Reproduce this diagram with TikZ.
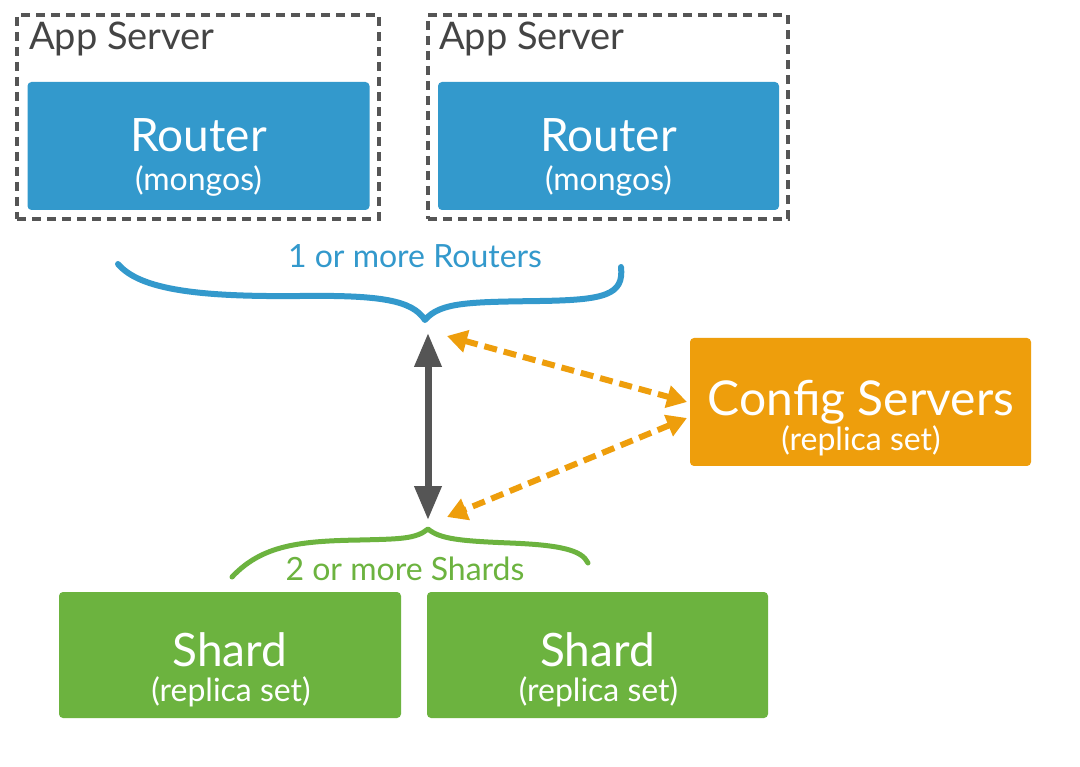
\documentclass[tikz,border=0pt]{standalone}
\usepackage{fontspec}
\setmainfont{Lato}
\usetikzlibrary{arrows.meta}
\definecolor{rblue}{HTML}{3399CC}
\definecolor{corange}{HTML}{EE9E0C}
\definecolor{sgreen}{HTML}{6CB33F}
\definecolor{dgray}{HTML}{555555}
\tikzset{
  appbox/.style={draw=dgray, line width=3.5pt, dash pattern=on 9pt off 6pt, minimum width=#1, minimum height=204pt, inner sep=0pt},
  colbox/.style={fill=#1, rounded corners=4pt, inner sep=0pt, minimum height=128pt},
  title/.style={anchor=base, text=white, font=\fontsize{46}{50}\selectfont, inner sep=0pt},
  subtitle/.style={anchor=base, text=white, font=\fontsize{32}{34}\selectfont, inner sep=0pt},
  apptext/.style={anchor=base west, text=dgray!80!black, font=\fontsize{38}{40}\selectfont, inner sep=0pt},
  bracelabel/.style={anchor=base, font=\fontsize{32}{34}\selectfont, inner sep=0pt},
  brace/.style={line width=#1, line cap=round, line join=round},
  grayarrow/.style={draw=dgray, line width=7pt, {Triangle[width=26pt,length=34pt]}-{Triangle[width=26pt,length=34pt]}},
  cfgarrow/.style={draw=corange, line width=6pt, dash pattern=on 13pt off 7pt, {Triangle[width=22pt,length=20pt]}-{Triangle[width=22pt,length=20pt]}},
}
\begin{document}
\begin{tikzpicture}[x=1pt,y=-1pt]
\useasboundingbox[fill=white] (0,0) rectangle (1080,767);
% app servers
\node[appbox=362pt] (app1) at (198,117) {};
\node[appbox=360pt] (app2) at (608,117) {};
\node[apptext] (app1t) at (29,50) {App Server};
\node[apptext] (app2t) at (439,50) {App Server};
% routers
\node[colbox=rblue, minimum width=342pt] (r1) at (198.5,146) {};
\node[colbox=rblue, minimum width=341pt] (r2) at (608.5,146) {};
\node[title] (r1t) at (198.5,152) {Router};
\node[subtitle] (r1s) at (198.5,191) {(mongos)};
\node[title] (r2t) at (608.5,152) {Router};
\node[subtitle] (r2s) at (608.5,191) {(mongos)};
% config
\node[colbox=corange, minimum width=341pt] (cfg) at (860.5,402) {};
\node[title, font=\fontsize{48}{50}\selectfont] (cfgt) at (861,416) {Config Servers};
\node[subtitle] (cfgs) at (861,450) {(replica set)};
% shards
\node[colbox=sgreen, minimum width=342pt, minimum height=126pt] (s1) at (230,655) {};
\node[colbox=sgreen, minimum width=341pt, minimum height=126pt] (s2) at (597.5,655) {};
\node[title] (s1t) at (230,666) {Shard};
\node[subtitle] (s1s) at (231,701) {(replica set)};
\node[title] (s2t) at (597.5,666) {Shard};
\node[subtitle] (s2s) at (598.5,701) {(replica set)};
% braces
\draw[brace=6pt, draw=rblue] (118,264) .. controls (140,290) and (200,297) .. (300,296)
  .. controls (380,295) and (412,300) .. (425,320)
  .. controls (440,302) and (470,302) .. (540,301)
  .. controls (605,300) and (624,295) .. (621,267);
\node[bracelabel, text=rblue] (rlab) at (415,268) {1 or more Routers};
\draw[brace=5pt, draw=sgreen] (232,577) .. controls (262,545) and (300,541) .. (360,540)
  .. controls (400,539) and (416,539) .. (428,529)
  .. controls (440,539) and (460,541) .. (510,543)
  .. controls (560,545) and (582,550) .. (588,563);
\node[bracelabel, text=sgreen] (slab) at (405,580) {2 or more Shards};
% connectors
\coordinate (rtip) at (428,333);
\coordinate (stip) at (428,520);
\coordinate (ctop) at (447,336);
\coordinate (cbot) at (447,517);
\coordinate (cfgin1) at (687,402);
\coordinate (cfgin2) at (687,418);
\draw[grayarrow] (rtip) -- (stip);
\draw[cfgarrow] (ctop) -- (cfgin1);
\draw[cfgarrow] (cfgin2) -- (cbot);
\end{tikzpicture}
\end{document}
